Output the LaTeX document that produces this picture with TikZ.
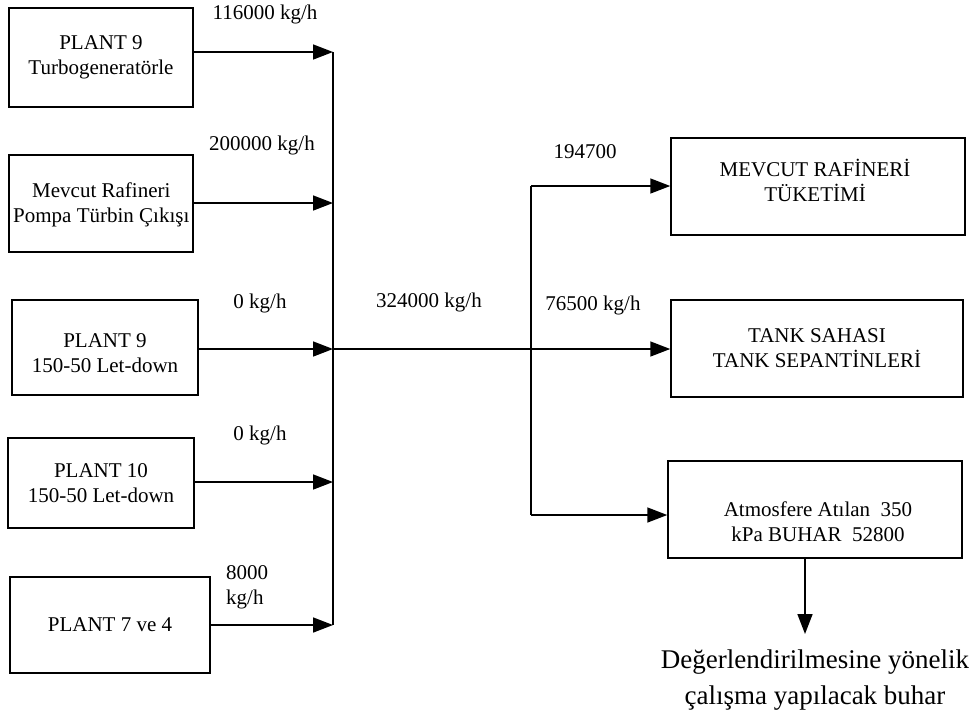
\documentclass[tikz,border=0pt]{standalone}
\usepackage{fontspec}
\setmainfont{Liberation Serif}
\usetikzlibrary{arrows.meta}
\begin{document}
\begin{tikzpicture}[x=1pt,y=-1pt,
  box/.style={draw,line width=1.5pt,inner sep=0pt,align=center,font=\fontsize{21}{25}\selectfont},
  lbl/.style={inner sep=0pt,font=\fontsize{21}{25}\selectfont},
  line/.style={line width=1.6pt},
  arr/.style={line width=1.6pt,-{Triangle[length=20pt,width=15pt]}}]
\useasboundingbox (0,0) rectangle (973,710);
% left boxes
\node[box,minimum width=184pt,minimum height=99pt] (b1) at (101,57.5) {PLANT 9\\Turbogeneratörle};
\node[box,minimum width=184pt,minimum height=97pt] (b2) at (101,203.5) {};
\node[lbl,anchor=west,align=center] (b2t) at (13,204.5) {Mevcut Rafineri\\Pompa Türbin Çıkışı};
\node[box,minimum width=186pt,minimum height=95pt] (b3) at (105,347.5) {};
\node[lbl,align=center] (b3t) at (105,353) {PLANT 9\\150-50 Let-down};
\node[box,minimum width=186pt,minimum height=90pt] (b4) at (101,483) {PLANT 10\\150-50 Let-down};
\node[box,minimum width=200pt,minimum height=96pt] (b5) at (110,625) {PLANT 7 ve 4};
% right boxes
\node[box,minimum width=294pt,minimum height=97pt] (r1) at (818,186.5) {};
\node[lbl,align=center] (r1t) at (815,180.5) {MEVCUT RAFİNERİ\\TÜKETİMİ};
\node[box,minimum width=292pt,minimum height=97pt] (r2) at (817,348.5) {TANK SAHASI\\TANK SEPANTİNLERİ};
\node[box,minimum width=294pt,minimum height=97pt] (r3) at (815,509.5) {};
\node[lbl,align=center] (r3t) at (818,522) {Atmosfere Atılan~~350\\kPa BUHAR~~52800};
% bus coordinates
\coordinate (j1) at (333,52);
\coordinate (j2) at (333,203);
\coordinate (j3) at (333,349);
\coordinate (j4) at (333,482);
\coordinate (j5) at (333,625);
\coordinate (k1) at (531,186);
\coordinate (k3) at (531,515);
\coordinate (d1) at (805,558);
\coordinate (d2) at (805,634);
% connectors
\draw[line] (j1) -- (j5);
\draw[arr] (b1.east |- j1) -- (j1);
\draw[arr] (b2.east |- j2) -- (j2);
\draw[arr] (b3.east |- j3) -- (j3);
\draw[arr] (b4.east |- j4) -- (j4);
\draw[arr] (b5.east |- j5) -- (j5);
\draw[arr] (j3) -- (r2.west |- j3);
\draw[line] (k1) -- (k3);
\draw[arr] (k1) -- (r1.west |- k1);
\draw[arr] (k3) -- (r3.west |- k3);
\draw[arr] (d1) -- (d2);
% labels
\node[lbl] (l1) at (265,14) {116000 kg/h};
\node[lbl] (l2) at (262,145) {200000 kg/h};
\node[lbl] (l3) at (260,303) {0 kg/h};
\node[lbl] (l4) at (260,435) {0 kg/h};
\node[lbl,anchor=west,align=left] (l5) at (226,587) {8000\\kg/h};
\node[lbl] (l6) at (429,302) {324000 kg/h};
\node[lbl] (l7) at (585,152) {194700};
\node[lbl] (l8) at (593,305) {76500 kg/h};
\node[inner sep=0pt,anchor=north,align=center,font=\fontsize{27}{36}\selectfont] (bt) at (815,649.5) {Değerlendirilmesine yönelik\\çalışma yapılacak buhar};
\end{tikzpicture}
\end{document}
